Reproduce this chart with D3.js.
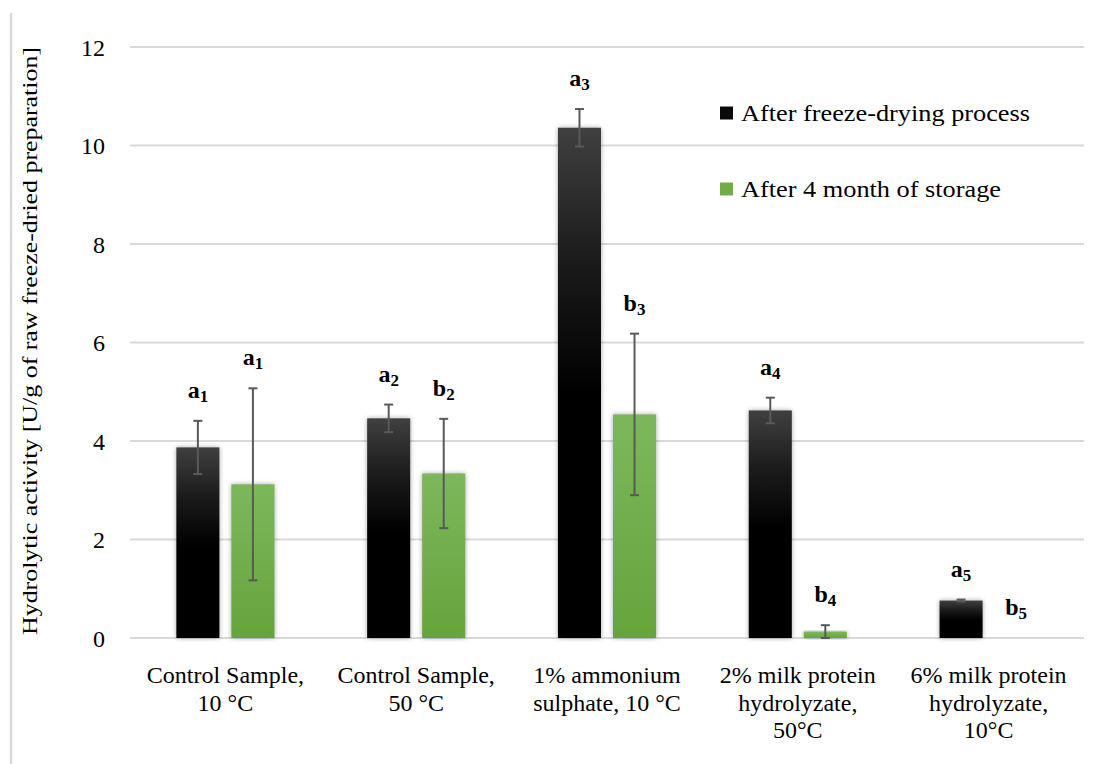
<!DOCTYPE html>
<html>
<head>
<meta charset="utf-8">
<script src="https://cdn.jsdelivr.net/npm/d3@7"></script>
<style>
  html, body { margin: 0; padding: 0; background: #fff; }
  svg { display: block; }
  text { font-family: "Liberation Serif", "DejaVu Serif", serif; fill: #000; }
</style>
</head>
<body>
<svg id="chart" width="1096" height="764"></svg>
<script>
// Sample groups (x-axis), each label split into its printed lines
const categories = [
  ["Control Sample,", "10 \u00B0C"],
  ["Control Sample,", "50 \u00B0C"],
  ["1% ammonium", "sulphate, 10 \u00B0C"],
  ["2% milk protein", "hydrolyzate,", "50\u00B0C"],
  ["6% milk protein", "hydrolyzate,", "10\u00B0C"]
];
const seriesNames = ["After freeze-drying process", "After 4 month of storage"];

// Hydrolytic activity [U/g] and standard deviations
const freezeDried = [3.87, 4.46, 10.36, 4.62, 0.76];
const freezeDriedErr = [0.54, 0.28, 0.38, 0.26, 0.02];
const storage = [3.12, 3.34, 4.54, 0.13, 0];
const storageErr = [1.95, 1.11, 1.64, 0.13, 0];

// Statistical group letters with subscripts
const freezeDriedLetters = [["a", "1"], ["a", "2"], ["a", "3"], ["a", "4"], ["a", "5"]];
const storageLetters = [["a", "1"], ["b", "2"], ["b", "3"], ["b", "4"], ["b", "5"]];

const yTicks = [0, 2, 4, 6, 8, 10, 12];
const yTitle = "Hydrolytic activity [U/g of raw freeze-dried preparation]";

const svg = d3.select("#chart");
const defs = svg.append("defs");

const gBlack = defs.append("linearGradient").attr("id", "gradBlack")
  .attr("x1", 0).attr("y1", 0).attr("x2", 0).attr("y2", 1);
gBlack.append("stop").attr("offset", "0%").attr("stop-color", "#404040");
gBlack.append("stop").attr("offset", "25%").attr("stop-color", "#1c1c1c");
gBlack.append("stop").attr("offset", "52%").attr("stop-color", "#000000");
gBlack.append("stop").attr("offset", "100%").attr("stop-color", "#000000");

const gGreen = defs.append("linearGradient").attr("id", "gradGreen")
  .attr("x1", 0).attr("y1", 0).attr("x2", 0).attr("y2", 1);
gGreen.append("stop").attr("offset", "0%").attr("stop-color", "#7db75c");
gGreen.append("stop").attr("offset", "100%").attr("stop-color", "#66a43b");

// Soft halo drawn behind each bar
defs.append("filter").attr("id", "halo")
  .attr("x", "-40%").attr("y", "-20%").attr("width", "180%").attr("height", "140%")
  .append("feGaussianBlur").attr("stdDeviation", 2.4);

const fills = ["url(#gradBlack)", "url(#gradGreen)"];
const legendFills = ["#0a0a0a", "#70ad47"];

const plot = { left: 130, right: 1084, top: 47, bottom: 638 };

const x0 = d3.scaleBand()
  .domain(d3.range(categories.length))
  .range([plot.left, plot.right])
  .paddingInner(0).paddingOuter(0);

const pairWidth = x0.bandwidth() * 0.514;
const x1 = d3.scaleBand()
  .domain([0, 1])
  .range([0, pairWidth])
  .paddingInner(0.218).paddingOuter(0);

const y = d3.scaleLinear().domain([0, 12]).range([plot.bottom, plot.top]);

// Outer frame edge on the left
svg.append("line")
  .attr("x1", 11).attr("x2", 11).attr("y1", 13).attr("y2", 764)
  .attr("stroke", "#d9d9d9").attr("stroke-width", 2.5);

// Gridlines
svg.append("g")
  .selectAll("line")
  .data(yTicks)
  .join("line")
  .attr("x1", plot.left).attr("x2", plot.right)
  .attr("y1", d => y(d)).attr("y2", d => y(d))
  .attr("stroke", "#d9d9d9").attr("stroke-width", 2);

// Y axis tick labels
const yAxis = d3.axisLeft(y).tickValues(yTicks).tickSize(0).tickPadding(0).tickFormat(d3.format("d"));
const yG = svg.append("g").attr("transform", "translate(105,0)").call(yAxis);
yG.select(".domain").remove();
yG.selectAll("text")
  .attr("font-family", "Liberation Serif, DejaVu Serif, serif")
  .attr("font-size", 24).attr("fill", "#000").attr("dy", "0.34em");

// Y axis title
svg.append("text")
  .attr("transform", "translate(37,341) rotate(-90)")
  .attr("text-anchor", "middle")
  .attr("font-size", 21)
  .attr("textLength", 588)
  .attr("lengthAdjust", "spacingAndGlyphs")
  .text(yTitle);

// Data rows for the two series
const series = [
  { values: freezeDried, errs: freezeDriedErr, letters: freezeDriedLetters },
  { values: storage, errs: storageErr, letters: storageLetters }
];

const groupOffset = (x0.bandwidth() - pairWidth) / 2;
const barX = (gi, si) => x0(gi) + groupOffset + x1(si);

series.forEach((s, si) => {
  const g = svg.append("g");
  const rows = s.values.map((v, i) => ({ v, e: s.errs[i], l: s.letters[i], i }));
  const bars = rows.filter(d => d.v > 0);

  g.selectAll("rect.halo")
    .data(bars)
    .join("rect").attr("class", "halo")
    .attr("x", d => barX(d.i, si))
    .attr("width", x1.bandwidth())
    .attr("y", d => y(d.v))
    .attr("height", d => y(0) - y(d.v))
    .attr("fill", "#000").attr("opacity", 0.35)
    .attr("filter", "url(#halo)");

  g.selectAll("rect.bar")
    .data(bars)
    .join("rect").attr("class", "bar")
    .attr("x", d => barX(d.i, si))
    .attr("width", x1.bandwidth())
    .attr("y", d => y(d.v))
    .attr("height", d => y(0) - y(d.v))
    .attr("fill", fills[si]);

  // Error bars
  const eb = g.selectAll("g.err")
    .data(rows.filter(d => d.e > 0))
    .join("g").attr("class", "err");
  const cx = d => barX(d.i, si) + x1.bandwidth() / 2;
  eb.append("line")
    .attr("x1", cx).attr("x2", cx)
    .attr("y1", d => y(d.v + d.e)).attr("y2", d => y(Math.max(0, d.v - d.e)))
    .attr("stroke", "#595959").attr("stroke-width", 2);
  [d => d.v + d.e, d => Math.max(0, d.v - d.e)].forEach(fn => {
    eb.append("line")
      .attr("x1", d => cx(d) - 4.5).attr("x2", d => cx(d) + 4.5)
      .attr("y1", d => y(fn(d))).attr("y2", d => y(fn(d)))
      .attr("stroke", "#595959").attr("stroke-width", 2);
  });

  // Group letters above the error bars
  const lt = g.selectAll("text.letter")
    .data(rows)
    .join("text").attr("class", "letter")
    .attr("x", d => cx(d))
    .attr("y", d => y(d.v + d.e) - 23)
    .attr("text-anchor", "middle")
    .attr("font-weight", "bold")
    .attr("font-size", 24);
  lt.append("tspan").text(d => d.l[0]);
  lt.append("tspan").attr("font-size", 17).attr("dy", 4).text(d => d.l[1]);
});

// Category labels
const xl = svg.append("g").selectAll("text")
  .data(categories)
  .join("text")
  .attr("x", (d, i) => x0(i) + x0.bandwidth() / 2)
  .attr("y", 683)
  .attr("text-anchor", "middle")
  .attr("font-size", 24);
xl.selectAll("tspan")
  .data(d => d)
  .join("tspan")
  .attr("x", function () { return this.parentNode.getAttribute("x"); })
  .attr("dy", (d, j) => j === 0 ? 0 : 27.5)
  .text(d => d);

// Legend
const legend = svg.append("g");
const legendY = [113, 189];
const legendWidths = [289, 260];
seriesNames.forEach((name, i) => {
  legend.append("rect")
    .attr("x", 720).attr("y", legendY[i] - 6.5)
    .attr("width", 13).attr("height", 13)
    .attr("fill", legendFills[i]);
  legend.append("text")
    .attr("x", 741).attr("y", legendY[i] + 7.5)
    .attr("font-size", 23)
    .attr("textLength", legendWidths[i])
    .attr("lengthAdjust", "spacingAndGlyphs")
    .text(name);
});
</script>
</body>
</html>
